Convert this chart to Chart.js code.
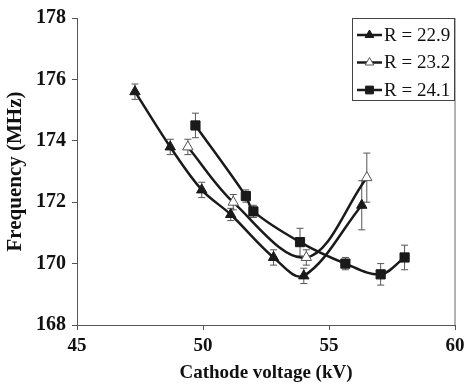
<!DOCTYPE html>
<html>
<head>
<meta charset="utf-8">
<script src="https://cdn.jsdelivr.net/npm/chart.js@4/dist/chart.umd.min.js"></script>
<style>
  html, body { margin: 0; padding: 0; background: #fff; overflow: hidden; }
  #wrap { width: 465px; height: 385px; }
</style>
</head>
<body>
<div id="wrap"><canvas id="myChart" width="465" height="385"></canvas></div>
<script>
// data
const seriesLabels = ['R = 22.9', 'R = 23.2', 'R = 24.1'];

const voltsA = [47.3, 48.7, 49.95, 51.1, 52.8, 54.0, 56.3];
const freqA  = [175.6, 173.8, 172.4, 171.6, 170.2, 169.6, 171.9];
const errA   = [0.25, 0.25, 0.25, 0.2, 0.25, 0.25, 0.8];

const voltsB = [49.4, 51.2, 54.1, 56.5];
const freqB  = [173.8, 172.0, 170.2, 172.8];
const errB   = [0.25, 0.25, 0.25, 0.8];

const voltsC = [49.7, 51.7, 52.0, 53.85, 55.65, 57.05, 58.0];
const freqC  = [174.5, 172.2, 171.7, 170.7, 170.0, 169.65, 170.2];
const errC   = [0.4, 0.2, 0.2, 0.45, 0.2, 0.35, 0.4];

const xTicks = [45, 50, 55, 60];
const yTicks = [168, 170, 172, 174, 176, 178];

const serif = '"Liberation Serif", "Times New Roman", serif';

function points(xs, ys) {
    return xs.map((x, i) => ({ x: x, y: ys[i] }));
}

function makeSet(label, xs, ys, errs, style, fill, stroke) {
    return {
        label: label,
        data: points(xs, ys),
        errors: errs,
        borderColor: '#1a1a1a',
        borderWidth: 2.5,
        tension: 0.35,
        fill: false,
        pointStyle: style,
        pointRadius: style === 'rect' ? 6.5 : 6,
        pointBackgroundColor: fill,
        pointBorderColor: stroke,
        pointBorderWidth: 1
    };
}

// error bars, drawn behind the markers
const errorBars = {
    id: 'errorBars',
    beforeDatasetsDraw(chart) {
        const ctx = chart.ctx;
        const xs = chart.scales.x, ys = chart.scales.y;
        ctx.save();
        ctx.strokeStyle = '#555';
        ctx.lineWidth = 1;
        chart.data.datasets.forEach(ds => {
            ds.data.forEach((p, i) => {
                const e = ds.errors[i];
                const px = xs.getPixelForValue(p.x);
                const top = ys.getPixelForValue(p.y + e);
                const bot = ys.getPixelForValue(p.y - e);
                ctx.beginPath();
                ctx.moveTo(px, top); ctx.lineTo(px, bot);
                ctx.moveTo(px - 3.5, top); ctx.lineTo(px + 3.5, top);
                ctx.moveTo(px - 3.5, bot); ctx.lineTo(px + 3.5, bot);
                ctx.stroke();
            });
        });
        ctx.restore();
    }
};

// right frame line and boxed legend inside the plot
const frameAndLegend = {
    id: 'frameAndLegend',
    afterDraw(chart) {
        const ctx = chart.ctx;
        const a = chart.chartArea;
        ctx.save();
        ctx.strokeStyle = '#999';
        ctx.lineWidth = 1.5;
        ctx.beginPath();
        ctx.moveTo(a.right, a.top);
        ctx.lineTo(a.right, a.bottom);
        ctx.stroke();

        const bx = a.right - 103, by = a.top, bw = 103, bh = 83;
        ctx.fillStyle = '#fff';
        ctx.fillRect(bx, by, bw, bh);
        ctx.strokeStyle = '#444';
        ctx.lineWidth = 1;
        ctx.strokeRect(bx + 0.5, by + 0.5, bw - 1, bh - 1);

        chart.data.datasets.forEach((ds, i) => {
            const y = by + 17 + i * 27.5;
            ctx.strokeStyle = '#1a1a1a';
            ctx.lineWidth = 2.5;
            ctx.beginPath();
            ctx.moveTo(bx + 5, y);
            ctx.lineTo(bx + 30, y);
            ctx.stroke();
            ctx.fillStyle = ds.pointBackgroundColor;
            ctx.strokeStyle = ds.pointBorderColor;
            ctx.lineWidth = 1;
            Chart.helpers.drawPoint(ctx, {
                pointStyle: ds.pointStyle,
                radius: ds.pointStyle === 'rect' ? 5.5 : 5,
                rotation: 0,
                borderWidth: 1
            }, bx + 17.5, y);
            ctx.fillStyle = '#111';
            ctx.font = '19px ' + serif;
            ctx.textBaseline = 'middle';
            ctx.textAlign = 'left';
            ctx.fillText(ds.label, bx + 32, y + 1);
        });
        ctx.restore();
    }
};

new Chart(document.getElementById('myChart').getContext('2d'), {
    type: 'line',
    data: {
        datasets: [
            makeSet(seriesLabels[0], voltsA, freqA, errA, 'triangle', '#1a1a1a', '#1a1a1a'),
            makeSet(seriesLabels[1], voltsB, freqB, errB, 'triangle', '#ffffff', '#555'),
            makeSet(seriesLabels[2], voltsC, freqC, errC, 'rect', '#1a1a1a', '#1a1a1a')
        ]
    },
    options: {
        responsive: false,
        animation: false,
        layout: { padding: { top: 16, right: 10, left: 0, bottom: 0 } },
        plugins: {
            legend: { display: false },
            tooltip: { enabled: false }
        },
        scales: {
            x: {
                type: 'linear',
                min: 45, max: 60,
                afterBuildTicks: s => { s.ticks = xTicks.map(v => ({ value: v })); },
                afterFit: s => { s.height = 60; s.paddingRight = 10; s.paddingLeft = 0; },
                grid: { display: true, drawOnChartArea: false, drawTicks: true, tickLength: 5, color: '#555' },
                border: { color: '#555', width: 1 },
                ticks: { color: '#111', font: { family: serif, size: 19, weight: 'bold' }, padding: 5, maxRotation: 0 },
                title: { display: true, text: 'Cathode voltage (kV)', color: '#111',
                         font: { family: serif, size: 19, weight: 'bold' }, padding: { top: 0, bottom: 1 } }
            },
            y: {
                min: 168, max: 178,
                afterBuildTicks: s => { s.ticks = yTicks.map(v => ({ value: v })); },
                afterFit: s => { s.width = 77; },
                grid: { display: true, drawOnChartArea: false, drawTicks: true, tickLength: 5, color: '#555' },
                border: { color: '#555', width: 1 },
                ticks: { color: '#111', font: { family: serif, size: 20, weight: 'bold' }, padding: 6 },
                title: { display: true, text: 'Frequency (MHz)', color: '#111',
                         font: { family: serif, size: 21, weight: 'bold' }, padding: { top: 3, bottom: 0 } }
            }
        }
    },
    plugins: [errorBars, frameAndLegend]
});
</script>
</body>
</html>
